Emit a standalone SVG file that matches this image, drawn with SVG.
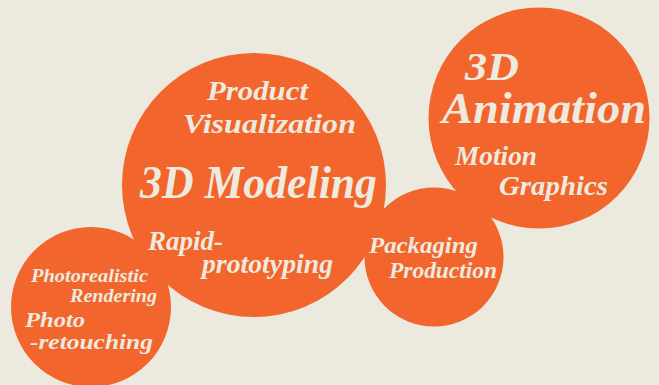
<svg xmlns="http://www.w3.org/2000/svg" width="659" height="385" viewBox="0 0 659 385">
<style>
.bubble{fill:#f2652c}
.t{fill:#eeeadf;font-family:"Liberation Serif","DejaVu Serif",serif;font-weight:bold;font-style:italic}
</style>
<rect width="659" height="385" fill="#ece9df"/>
<g id="node-rendering">
<circle class="bubble" cx="91" cy="307" r="80"/>
<text class="t" x="31" y="282" font-size="19" textLength="117" lengthAdjust="spacingAndGlyphs">Photorealistic</text>
<text class="t" x="70" y="302" font-size="19" textLength="87" lengthAdjust="spacingAndGlyphs">Rendering</text>
<text class="t" x="25" y="327" font-size="22" textLength="60" lengthAdjust="spacingAndGlyphs">Photo</text>
<text class="t" x="30" y="349" font-size="22" textLength="123" lengthAdjust="spacingAndGlyphs">-retouching</text>
</g>
<g id="node-modeling">
<circle class="bubble" cx="254" cy="185" r="132"/>
<text class="t" x="207" y="100" font-size="28" textLength="101" lengthAdjust="spacingAndGlyphs">Product</text>
<text class="t" x="183" y="133" font-size="28" textLength="173" lengthAdjust="spacingAndGlyphs">Visualization</text>
<text class="t" x="140" y="198" font-size="46" textLength="237" lengthAdjust="spacingAndGlyphs">3D Modeling</text>
<text class="t" x="148" y="250" font-size="27" textLength="75" lengthAdjust="spacingAndGlyphs">Rapid-</text>
<text class="t" x="202" y="273" font-size="27" textLength="131" lengthAdjust="spacingAndGlyphs">prototyping</text>
</g>
<g id="node-packaging">
<circle class="bubble" cx="434" cy="257" r="69.5"/>
<text class="t" x="369" y="253" font-size="23" textLength="109" lengthAdjust="spacingAndGlyphs">Packaging</text>
<text class="t" x="389" y="278" font-size="23" textLength="108" lengthAdjust="spacingAndGlyphs">Production</text>
</g>
<g id="node-animation">
<circle class="bubble" cx="539" cy="118" r="110.5"/>
<text class="t" x="465" y="80" font-size="40" textLength="54" lengthAdjust="spacingAndGlyphs">3D</text>
<text class="t" x="442" y="123" font-size="44" textLength="204" lengthAdjust="spacingAndGlyphs">Animation</text>
<text class="t" x="455" y="165" font-size="28" textLength="82" lengthAdjust="spacingAndGlyphs">Motion</text>
<text class="t" x="499" y="195" font-size="28" textLength="109" lengthAdjust="spacingAndGlyphs">Graphics</text>
</g>
</svg>
